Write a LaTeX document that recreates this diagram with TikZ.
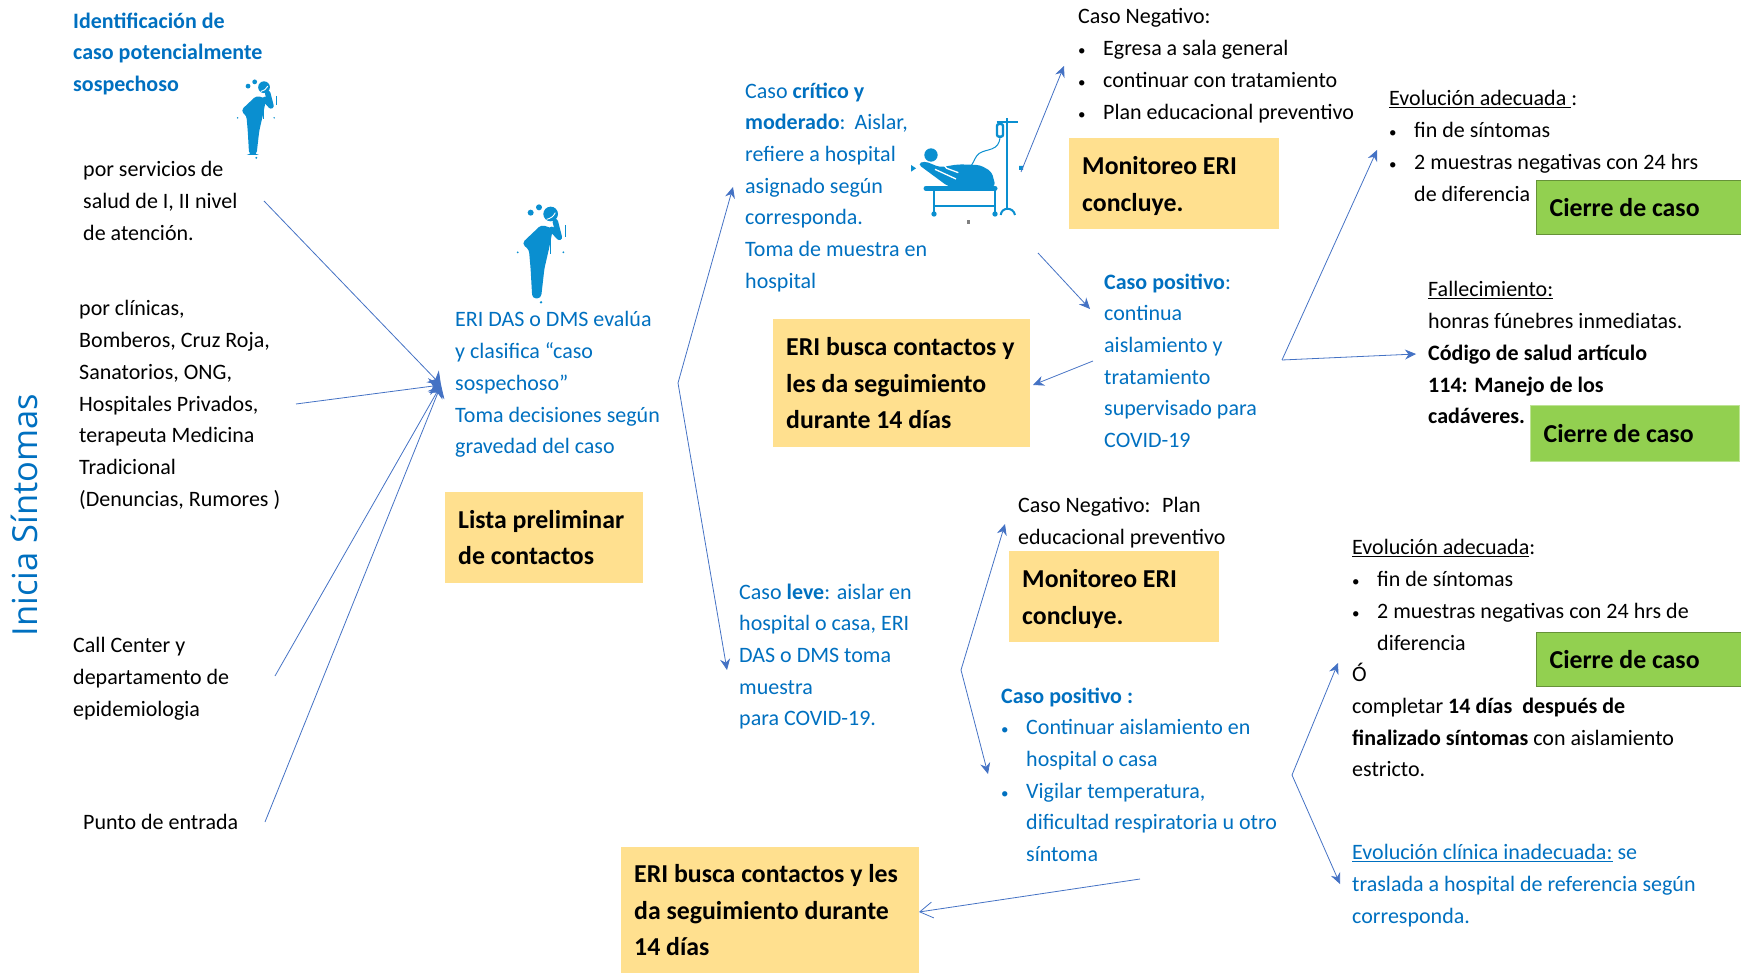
\documentclass[tikz,border=0pt]{standalone}
\usepackage{fontspec}
\setmainfont{Carlito}
\newfontfamily\titlefont{Open Sans}
\usetikzlibrary{
    positioning,
    arrows.meta,
    calc
}
\definecolor{eriblue}{HTML}{0070C0}
\definecolor{iconblue}{HTML}{0A8FD0}
\definecolor{linkblue}{HTML}{4472C4}
\definecolor{boxyellow}{HTML}{FFE08F}
\definecolor{boxgreen}{HTML}{92D050}
\tikzset{
    txt/.style={anchor=north west, inner sep=0pt, yshift=-6.5pt, align=left, font=\fontsize{22}{31.7}\selectfont, execute at begin node=\strut},
    bluetxt/.style={txt, text=eriblue},
    yellowbox/.style={anchor=north west, fill=boxyellow, inner xsep=13pt, inner ysep=0pt, align=flush left, font=\fontsize{25.8}{36.6}\selectfont\bfseries},
    monitorbox/.style={yellowbox, text width=184pt, minimum height=91pt, execute at begin node=\rule{0pt}{23pt}},
    greenbox/.style={yellowbox, fill=boxgreen, draw=boxgreen!70!black, line width=1.2pt},
    link/.style={linkblue, line width=0.8pt, -{Stealth[length=11pt,width=10pt]}},
    hublink/.style={linkblue, line width=0.8pt, -{Stealth[length=12pt,width=17pt]}},
    openlink/.style={linkblue, line width=0.8pt, -{Straight Barb[length=13pt,width=16pt]}},
    cougher/.pic={
        \fill[iconblue, draw=iconblue, line width=2.2pt, rounded corners=3pt] (130,160) -- (185,108) -- (215,118) -- (205,170) -- (190,235) -- (180,322) -- (160,322) -- (155,235) -- (150,178) -- cycle;
        \draw[iconblue, line width=5.5pt, line cap=round, line join=round] (215,118) -- (238,142) -- (226,95);
        \fill[iconblue] (212,72) circle (22) (152,68) circle (9) (177,52) circle (9) (183,337) circle (4) (113,187) circle (3) (250,187) circle (3);
        \draw[white, line width=0.9pt] (200,88) .. controls (212,85) and (220,80) .. (226,68);
        \draw[iconblue, line width=1pt] (211,150) -- (211,192) (257,105) -- (257,140);
    },
    sickbed/.pic={
        \fill[iconblue] (153,225) circle (20);
        \fill[iconblue, rounded corners=4pt] (113,252) -- (133,243) -- (180,262) -- (235,253) -- (300,255) -- (335,275) -- (347,320) -- (205,320) -- cycle;
        \draw[white, line width=1.3pt] (178,238) -- (200,265) -- (235,278) (165,268) -- (228,297);
        \draw[iconblue, line width=5pt, line cap=round] (138,325) -- (345,325);
        \draw[iconblue, line width=2.4pt] (162,325) -- (162,402) (345,325) -- (345,402) (162,378) -- (345,378);
        \fill[iconblue] (162,402) circle (8) (345,402) circle (8);
        \draw[iconblue, line width=1.8pt] (382,115) -- (382,390) (350,125) -- (415,125);
        \draw[iconblue, line width=2pt] (362,405) .. controls (365,380) and (400,380) .. (405,405);
        \draw[iconblue, line width=2.4pt, rounded corners=2pt] (351,132) rectangle (369,170);
        \draw[iconblue, line width=1pt] (360,170) .. controls (358,215) and (320,205) .. (298,220) .. controls (285,230) and (285,240) .. (275,255);
        \fill[iconblue] (93,255) -- (108,265) -- (93,275) -- cycle (417,258) rectangle (429,270);
        \fill[gray] (260,420) rectangle (270,431);
    }
}
\newcommand{\itm}[1]{\makebox[25pt][l]{\fontsize{15}{15}\selectfont\textbullet}#1}
\newcommand{\hng}{\hspace*{25pt}}
\begin{document}
\begin{tikzpicture}[x=1pt, y=-1pt]
            \useasboundingbox (0,0) rectangle (1741,973);

            \node[text=eriblue, font=\fontsize{34.5}{35}\titlefont, rotate=90] (inicia) at (24,515) {Inicia Síntomas};

            \node[bluetxt, font=\fontsize{22}{31.7}\selectfont\bfseries] (ident) at (73,6) {Identificación de\\caso potencialmente\\sospechoso};
            \node[txt] (servicios) at (83,155) {por servicios de\\salud de I, II nivel\\de atención.};
            \node[txt] (clinicas) at (79,294) {por clínicas,\\Bomberos, Cruz Roja,\\Sanatorios, ONG,\\Hospitales Privados,\\terapeuta Medicina\\Tradicional\\(Denuncias, Rumores )};
            \node[txt] (callcenter) at (73,631) {Call Center y\\departamento de\\epidemiologia};
            \node[txt] (punto) at (83,801) {Punto de entrada};

            \pic[scale=0.2667] at (207.5,68) {cougher};
            \node[bluetxt] (eridas) at (455,305) {ERI DAS o DMS evalúa\\y clasifica “caso\\sospechoso”\\Toma decisiones según\\gravedad del caso};
            \node[yellowbox, text width=172pt, minimum height=91pt] (lista) at (445,492) {Lista preliminar\\de contactos};

            \node[bluetxt] (critico) at (745,76) {Caso \textbf{crítico y}\\\textbf{moderado}:\hspace{9pt}Aislar,\\refiere a hospital\\asignado según\\corresponda.\\Toma de muestra en\\hospital};
            \node[txt] (negativoa) at (1078,2) {Caso Negativo:\\\itm{Egresa a sala general}\\\itm{continuar con tratamiento}\\\itm{Plan educacional preventivo}};
            \node[monitorbox] (monitoreoa) at (1069,138) {Monitoreo ERI\\concluye.};
            \node[yellowbox, text width=231pt, minimum height=128pt] (buscaa) at (773,319) {ERI busca contactos y\\les da seguimiento\\durante 14 días};
            \node[bluetxt] (positivoa) at (1104,267) {\textbf{Caso positivo}:\\continua\\aislamiento y\\tratamiento\\supervisado para\\COVID-19};
            \node[txt] (evoluciona) at (1389,84) {\underline{Evolución adecuada }:\\\itm{fin de síntomas}\\\itm{2 muestras negativas con 24 hrs}\\\hng de diferencia};
            \node[greenbox, text width=179pt, minimum height=54pt] (cierrea) at (1536,180) {Cierre de caso};
            \node[txt] (fallece) at (1428,275) {\underline{Fallecimiento:}\\honras fúnebres inmediatas.\\\textbf{Código de salud artículo}\\\textbf{114: Manejo de los}\\\textbf{cadáveres.}};
            \node[greenbox, draw=boxgreen!60!white, text width=183pt, minimum height=56pt] (cierreb) at (1530,405) {Cierre de caso};

            \node[bluetxt] (leve) at (739,577) {Caso \textbf{leve}: aislar en\\hospital o casa, ERI\\DAS o DMS toma\\muestra\\para COVID-19.};
            \node[txt] (negativob) at (1018,491) {Caso Negativo:~ Plan\\educacional preventivo};
            \node[monitorbox] (monitoreob) at (1009,551) {Monitoreo ERI\\concluye.};
            \node[bluetxt] (positivob) at (1001,681) {\textbf{Caso positivo :}\\\itm{Continuar aislamiento en}\\\hng hospital o casa\\\itm{Vigilar temperatura,}\\\hng dificultad respiratoria u otro\\\hng síntoma};
            \node[txt] (evolucionb) at (1352,533) {\underline{Evolución adecuada}:\\\itm{fin de síntomas}\\\itm{2 muestras negativas con 24 hrs de}\\\hng diferencia\\Ó\\completar \textbf{14 días ~después de}\\\textbf{finalizado síntomas} con aislamiento\\estricto.};
            \node[greenbox, text width=179pt, minimum height=54pt] (cierrec) at (1536,632) {Cierre de caso};
            \node[bluetxt] (inadecuada) at (1352,838) {\underline{Evolución clínica inadecuada:} se\\traslada a hospital de referencia según\\corresponda.};
            \node[yellowbox, text width=272pt, minimum height=126pt] (buscab) at (621,847) {ERI busca contactos y les\\da seguimiento durante\\14 días};

            \pic[scale=1/3] at (480,190) {cougher};
            \pic[scale=1/3] at (880,80) {sickbed};

            \coordinate (hub) at (441,385);
            \coordinate (s1) at (264,201);
            \coordinate (s2) at (296,404);
            \coordinate (s3) at (275,676);
            \coordinate (s4) at (265,822);
            \foreach \s in {s1,s2,s3,s4} {
                \draw[hublink] (\s) -- (hub);
            }
            \coordinate (t1) at (678,383);
            \coordinate (t2) at (1021,172);
            \coordinate (t3) at (1038,253);
            \coordinate (t4) at (1093,361);
            \coordinate (t5) at (1282,360);
            \coordinate (t6) at (961,670);
            \coordinate (t7) at (1292,775);
            \coordinate (t8) at (1140,879);
            \coordinate (e1) at (733,187);
            \coordinate (e2) at (727,670);
            \coordinate (e3) at (1064,66);
            \coordinate (e4) at (1090,309);
            \coordinate (e5) at (1033,385);
            \coordinate (e6) at (1377,150);
            \coordinate (e7) at (1416,354);
            \coordinate (e8) at (1005,524);
            \coordinate (e9) at (988,774);
            \coordinate (e10) at (1338,663);
            \coordinate (e11) at (1340,884);
            \coordinate (e12) at (919,912);
            \draw[link] (t1) -- (e1);
            \draw[link] (t1) -- (e2);
            \draw[link] (t2) -- (e3);
            \draw[link] (t3) -- (e4);
            \draw[link] (t4) -- (e5);
            \draw[link] (t5) -- (e6);
            \draw[link] (t5) -- (e7);
            \draw[link] (t6) -- (e8);
            \draw[link] (t6) -- (e9);
            \draw[link] (t7) -- (e10);
            \draw[link] (t7) -- (e11);
            \draw[openlink] (t8) -- (e12);
\end{tikzpicture}
\end{document}
